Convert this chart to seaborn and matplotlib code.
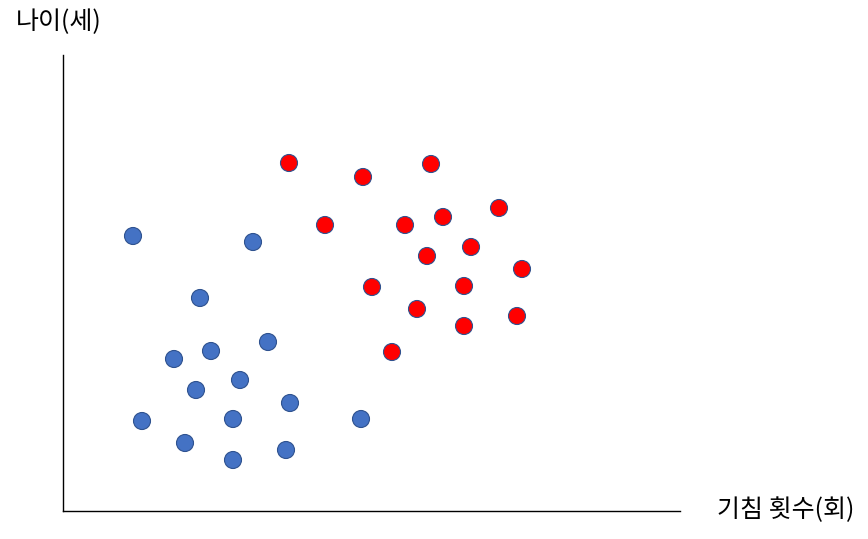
import matplotlib
matplotlib.use("Agg")
import matplotlib.pyplot as plt
import seaborn as sns
import pandas as pd

sns.set_style("white")
plt.rcParams['font.family'] = ['Noto Sans CJK KR', 'DejaVu Sans']

blue_x = [69, 189, 136, 110, 147, 204, 132, 176, 78, 169, 226, 297, 121, 169, 222]
blue_y = [276, 270, 214, 153, 161, 170, 122, 132, 91, 93, 109, 93, 69, 52, 62]
red_x = [225, 299, 367, 261, 341, 379, 435, 407, 363, 458, 308, 400, 353, 400, 453, 328]
red_y = [349, 335, 348, 287, 287, 295, 304, 265, 256, 243, 225, 226, 203, 186, 196, 160]

df = pd.DataFrame({
    "x": blue_x + red_x,
    "y": blue_y + red_y,
    "group": ["blue"] * len(blue_x) + ["red"] * len(red_x),
})

W, H = 868, 539
fig = plt.figure(figsize=(W / 100, H / 100), dpi=100)
ax = fig.add_axes([63 / W, (H - 511) / H, (680 - 63) / W, (511 - 55) / H])

sns.scatterplot(data=df, x="x", y="y", hue="group",
                palette={"blue": "#4472C4", "red": "#FF0000"},
                s=150, edgecolor="#2F528F", linewidth=0.8, legend=False, ax=ax)

ax.set_xlim(-1, 616)
ax.set_ylim(1, 457)
ax.set_xticks([])
ax.set_yticks([])
ax.set_xlabel("")
ax.set_ylabel("")
for side in ["top", "right"]:
    ax.spines[side].set_visible(False)
for side in ["left", "bottom"]:
    ax.spines[side].set_color("black")
    ax.spines[side].set_linewidth(1.0)

fig.text(16 / W, 1 - 22 / H, "나이(세)", fontsize=18, color="black", ha="left", va="center")
fig.text(854 / W, 1 - 510 / H, "기침 횟수(회)", fontsize=18, color="black", ha="right", va="center")

fig.savefig("out.png", dpi=100)
